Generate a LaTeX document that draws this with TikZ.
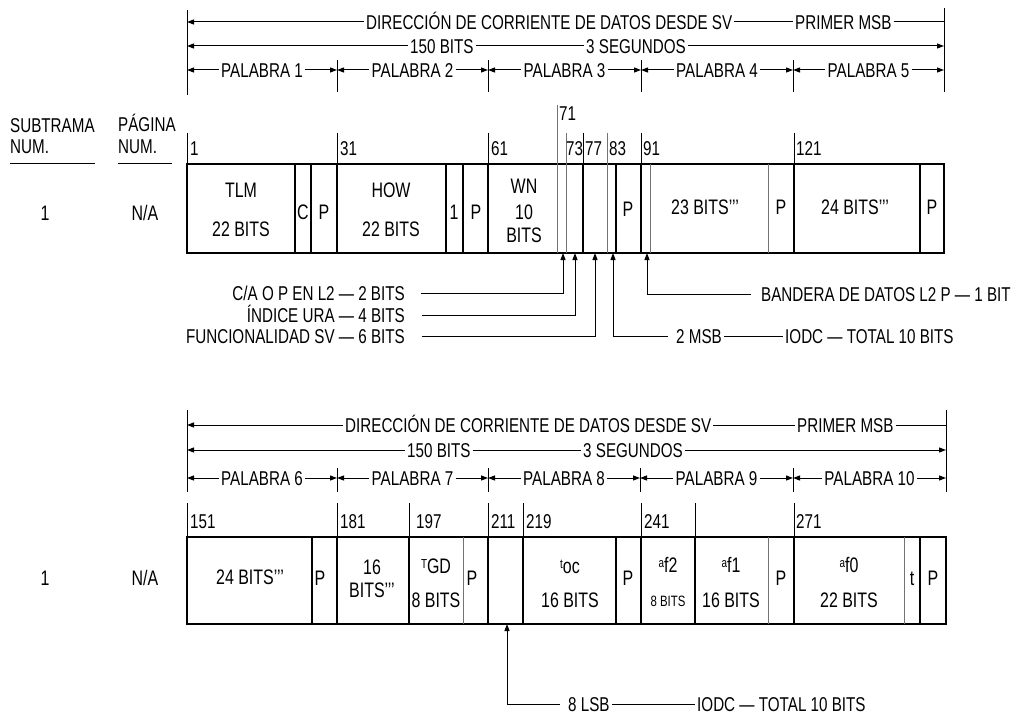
\documentclass[tikz,border=0pt]{standalone}
\usepackage{fontspec}
\setmainfont{Liberation Sans}[FakeStretch=0.76]
\usetikzlibrary{arrows.meta}
\tikzset{
  txt/.style={inner xsep=2pt, inner ysep=0pt, text height=14.3pt, text depth=0pt, font=\fontsize{20}{22}\selectfont},
  bx/.style={inner xsep=1pt, inner ysep=0pt, text height=15pt, text depth=0pt, font=\fontsize{21}{23}\selectfont},
  sm/.style={inner xsep=1pt, inner ysep=0pt, text height=10.7pt, text depth=0pt, font=\fontsize{15}{17}\selectfont},
  ln/.style={line width=1pt},
  arr/.style={line width=1pt, -{Triangle[length=7pt,width=5pt]}},
  frm/.style={line width=1.4pt},
  lite/.style={line width=0.8pt, black!55},
}
\newcommand{\sub}[2]{\raisebox{5pt}{\fontsize{13}{13}\selectfont #1}#2}
\begin{document}
\begin{tikzpicture}[x=1pt,y=-1pt]
\useasboundingbox (0,0) rectangle (1024,719);
\fill[white] (0,0) rectangle (1024,719);

% ================= TOP HEADER =================
\coordinate (L1) at (187,10);
\coordinate (R1) at (944,8);
\draw[ln] (L1) -- (187,95);
\draw[ln] (R1) -- (944,92);
\node[txt,anchor=west] (d1) at (364,22) {DIRECCIÓN DE CORRIENTE DE DATOS DESDE SV};
\node[txt,anchor=west] (m1) at (793,22) {PRIMER MSB};
\draw[arr] (d1.west) -- (d1.west -| L1);
\draw[ln] (d1.east) -- (m1.west);
\draw[ln] (m1.east) -- (m1.east -| R1);
\node[txt,anchor=west] (b1) at (408,46) {150 BITS};
\node[txt,anchor=west] (s1) at (584,46) {3 SEGUNDOS};
\draw[arr] (b1.west) -- (b1.west -| L1);
\draw[ln] (b1.east) -- (s1.west);
\draw[arr] (s1.east) -- (s1.east -| R1);
\foreach \a/\b/\n in {187/337/1, 337/488/2, 488/641/3, 641/793/4, 793/944/5} {
  \node[txt] (w\n) at ({(\a+\b)/2},70) {PALABRA \n};
  \coordinate (wa\n) at (\a,70);
  \coordinate (wb\n) at (\b,70);
  \draw[arr] (w\n.west) -- (wa\n);
  \draw[arr] (w\n.east) -- (wb\n);
}
\foreach \x in {337,488,641,793} \draw[ln] (\x,60) -- (\x,92);

% ================= LEFT LABELS =================
\node[txt,anchor=west] (sub1) at (8,125) {SUBTRAMA};
\node[txt,anchor=west] (sub2) at (8,146) {NUM.};
\draw[ln] (10,164) -- (95,164);
\node[txt,anchor=west] (pag1) at (116,124) {PÁGINA};
\node[txt,anchor=west] (pag2) at (116,146) {NUM.};
\draw[ln] (118,164) -- (172,164);
\node[bx] (sn1) at (45,213) {1};
\node[bx] (pn1) at (145,213) {N/A};

% ================= FRAME 1 =================
\draw[frm] (187,164) rectangle (944,253);
\foreach \x in {295,311,337,446,463,488,583,616,641,794,920} \draw[frm] (\x,164) -- (\x,253);
\foreach \x in {566,607} \draw[lite] (\x,133) -- (\x,253);
\draw[lite] (557,105) -- (557,253);
\foreach \x in {650,768} \draw[lite] (\x,164) -- (\x,253);
\foreach \x in {187,337,488,583,641,794} \draw[ln] (\x,133) -- (\x,164);
% bit numbers
\foreach \x/\t in {189/1,339/31,490/61,565/73,584/77,608/83,642/91,795/121}
  \node[txt,anchor=west,inner xsep=1pt] at (\x,148) {\t};
\node[txt,anchor=west,inner xsep=1pt] (n71) at (558,113) {71};
% contents
\node[bx] (tlm) at (241,190) {TLM};
\node[bx] (tlmb) at (241,229) {22 BITS};
\node[bx] (c1) at (303,212) {C};
\node[bx] (p1) at (324,212) {P};
\node[bx] (how) at (391,190) {HOW};
\node[bx] (howb) at (391,229) {22 BITS};
\node[bx] (one) at (454,212) {1};
\node[bx] (p2) at (476,212) {P};
\node[bx] (wn) at (524,186) {WN};
\node[bx] (wn10) at (524,212) {10};
\node[bx] (wnb) at (524,235) {BITS};
\node[bx] (p3) at (628,209) {P};
\node[bx] (b23) at (705,207) {23 BITS{'}{'}{'}};
\node[bx] (p4) at (781,207) {P};
\node[bx] (b24) at (855,207) {24 BITS{'}{'}{'}};
\node[bx] (p5) at (932,207) {P};

% ================= ANNOTATIONS 1 =================
\coordinate (ca) at (563,253);
\coordinate (ura) at (575,253);
\coordinate (sv) at (595,253);
\coordinate (iodc1) at (613,253);
\coordinate (l2p) at (647,253);
\node[txt,anchor=east] (t1) at (407,293) {C/A O P EN L2 — 2 BITS};
\node[txt,anchor=east] (t2) at (407,315) {ÍNDICE URA — 4 BITS};
\node[txt,anchor=east] (t3) at (407,336) {FUNCIONALIDAD SV — 6 BITS};
\draw[arr] ([xshift=14pt]t1.east) -| (ca);
\draw[arr] ([xshift=15pt]t2.east) -| (ura);
\draw[arr] ([xshift=15pt]t3.east) -| (sv);
\node[txt,anchor=west] (t4) at (759,294) {BANDERA DE DATOS L2 P — 1 BIT};
\draw[arr] ([xshift=-8pt]t4.west) -| (l2p);
\node[txt,anchor=west] (m2) at (674,336) {2 MSB};
\node[txt,anchor=west] (i2) at (783,336) {IODC — TOTAL 10 BITS};
\draw[arr] ([xshift=-6pt]m2.west) -| (iodc1);
\draw[ln] (m2.east) -- (i2.west);

% ================= BOTTOM HEADER =================
\coordinate (L2) at (187,410);
\coordinate (R2) at (946,410);
\draw[ln] (L2) -- (187,492);
\draw[ln] (R2) -- (946,492);
\node[txt,anchor=west] (d2) at (343,425) {DIRECCIÓN DE CORRIENTE DE DATOS DESDE SV};
\node[txt,anchor=west] (m3) at (795,425) {PRIMER MSB};
\draw[arr] (d2.west) -- (d2.west -| L2);
\draw[ln] (d2.east) -- (m3.west);
\draw[ln] (m3.east) -- (m3.east -| R2);
\node[txt,anchor=west] (b2) at (405,450) {150 BITS};
\node[txt,anchor=west] (s2) at (581,450) {3 SEGUNDOS};
\draw[arr] (b2.west) -- (b2.west -| L2);
\draw[ln] (b2.east) -- (s2.west);
\draw[arr] (s2.east) -- (s2.east -| R2);
\foreach \a/\b/\n in {187/337/6, 337/488/7, 488/640/8, 640/793/9, 793/946/10} {
  \node[txt] (w\n) at ({(\a+\b)/2},478) {PALABRA \n};
  \coordinate (wa\n) at (\a,478);
  \coordinate (wb\n) at (\b,478);
  \draw[arr] (w\n.west) -- (wa\n);
  \draw[arr] (w\n.east) -- (wb\n);
}
\foreach \x in {337,488,640,793} \draw[ln] (\x,468) -- (\x,492);

% ================= FRAME 2 =================
\node[bx] (sn2) at (45,578) {1};
\node[bx] (pn2) at (145,578) {N/A};
\draw[frm] (187,537) rectangle (946,624);
\foreach \x in {312,337,409,488,523,616,641,695,794,920} \draw[frm] (\x,537) -- (\x,624);
\foreach \x in {463,768,904} \draw[lite] (\x,537) -- (\x,624);
\foreach \x in {187,337,409,488,523,641,695,794} \draw[ln] (\x,503) -- (\x,537);
\foreach \x/\t in {189/151,339/181,415/197,490/211,525/219,643/241,795/271}
  \node[txt,anchor=west,inner xsep=1pt] at (\x,521) {\t};
% contents
\node[bx] (b24b) at (250,577) {24 BITS{'}{'}{'}};
\node[bx] (p6) at (320,578) {P};
\node[bx] (s16) at (372,567) {16};
\node[bx] (s16b) at (372,590) {BITS{'}{'}{'}};
\node[bx] (tgd) at (436,566) {\sub{T}{GD}};
\node[bx] (tgdb) at (436,600) {8 BITS};
\node[bx] (p7) at (472,578) {P};
\node[bx] (toc) at (570,566) {\sub{t}{oc}};
\node[bx] (tocb) at (570,600) {16 BITS};
\node[bx] (p8) at (628,578) {P};
\node[bx] (af2) at (668,565) {\sub{a}{f2}};
\node[sm] (af2b) at (668,601) {8 BITS};
\node[bx] (af1) at (731,565) {\sub{a}{f1}};
\node[bx] (af1b) at (731,600) {16 BITS};
\node[bx] (p9) at (781,578) {P};
\node[bx] (af0) at (849,565) {\sub{a}{f0}};
\node[bx] (af0b) at (849,600) {22 BITS};
\node[bx] (tt) at (912,578) {t};
\node[bx] (p10) at (933,578) {P};

% ================= ANNOTATION 2 =================
\coordinate (iodc2) at (507,624);
\node[txt,anchor=west] (m4) at (566,704) {8 LSB};
\node[txt,anchor=west] (i4) at (695,704) {IODC — TOTAL 10 BITS};
\draw[arr] ([xshift=-6pt]m4.west) -| (iodc2);
\draw[ln] (m4.east) -- (i4.west);
\end{tikzpicture}
\end{document}
